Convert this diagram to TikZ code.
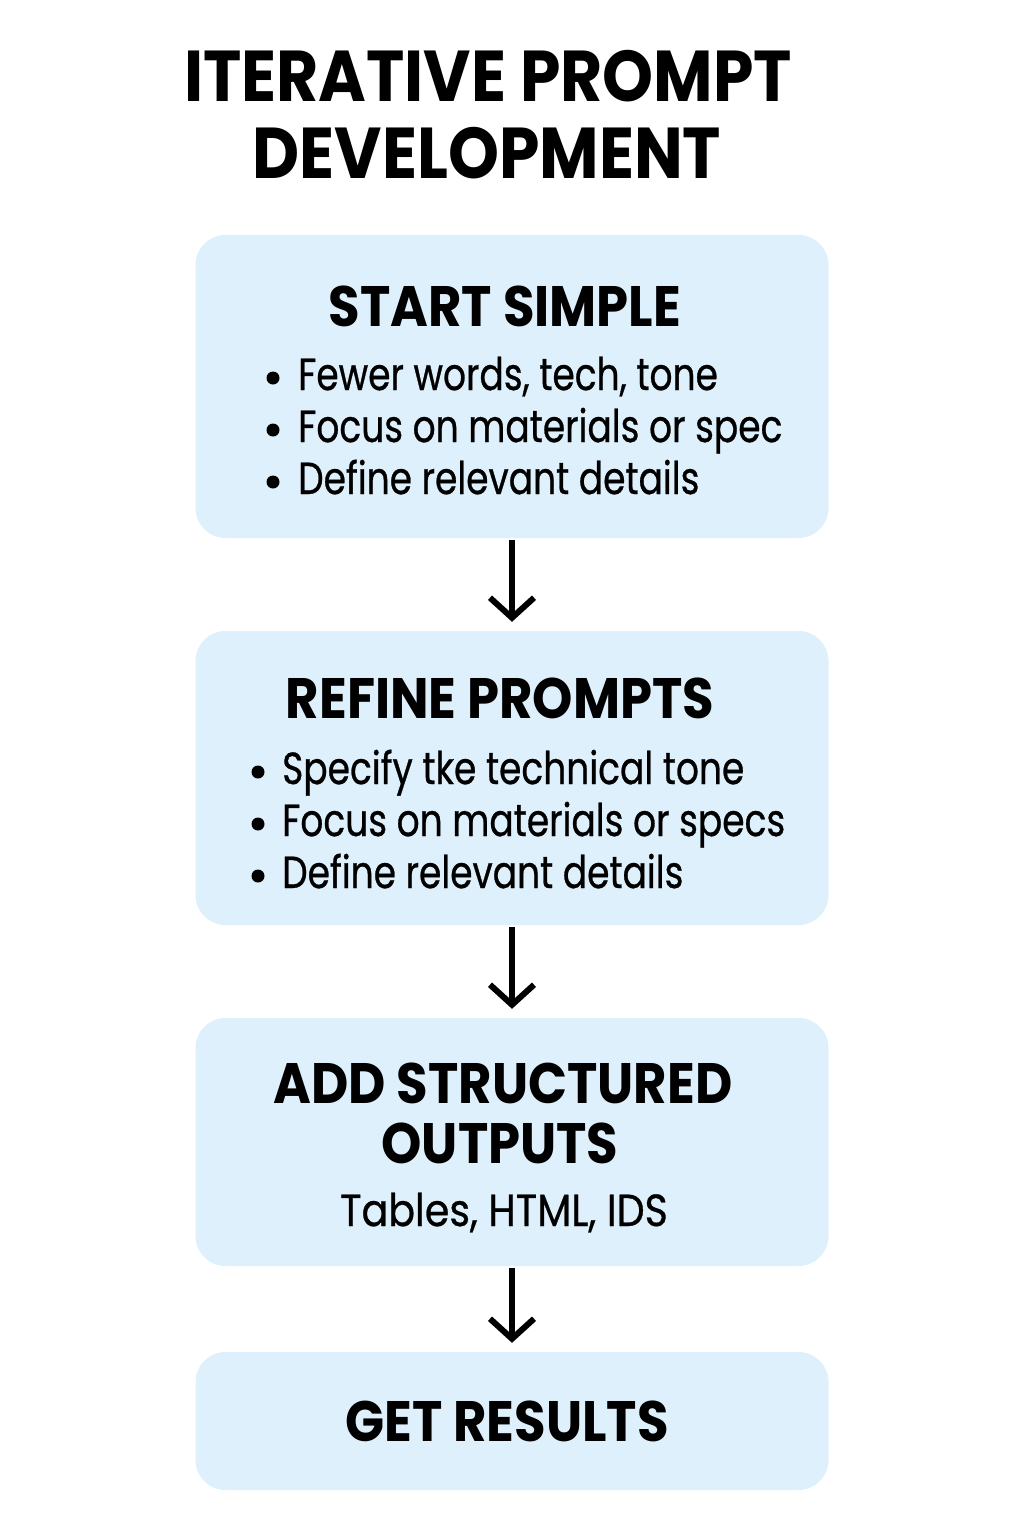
\documentclass[tikz,border=0pt]{standalone}
\usepackage{fontspec}
\setmainfont{Poppins}
\newfontfamily\headfont[FakeStretch=0.9]{Poppins}
\newfontfamily\bodyfont[FakeStretch=0.80,FakeBold=0.6]{Poppins}
\newfontfamily\plainfont[FakeStretch=0.88,FakeBold=0.6]{Poppins}
\usetikzlibrary{arrows.meta}
\definecolor{boxblue}{RGB}{222,240,252}
\tikzset{
  stepbox/.style={fill=boxblue, draw=none, rounded corners=30pt, minimum width=633pt, inner sep=0pt},
  titletext/.style={anchor=base, inner sep=0pt, font=\headfont\bfseries\fontsize{72}{80}\selectfont},
  headtext/.style={anchor=base, inner sep=0pt, font=\headfont\bfseries\fontsize{57}{64}\selectfont},
  bullettext/.style={anchor=base west, inner sep=0pt, font=\bodyfont\fontsize{45}{52}\selectfont},
  plaintext/.style={anchor=base, inner sep=0pt, font=\plainfont\fontsize{45}{52}\selectfont},
  dot/.style={fill=black},
  flowline/.style={draw=black, line width=6pt, -{Straight Barb[length=20pt,width=44pt,line width=6pt]}, shorten <=2pt, shorten >=9pt}
}
\begin{document}
\begin{tikzpicture}[x=1pt,y=-1pt]
\useasboundingbox[fill=white] (0,0) rectangle (1024,1536);
% title
\node[titletext] (t1) at (488,102) {ITERATIVE PROMPT};
\node[titletext] (t2) at (487,178) {DEVELOPMENT};
% boxes
\node[stepbox, minimum height=303pt] (b1) at (512,386.5) {};
\node[stepbox, minimum height=294pt] (b2) at (512,778) {};
\node[stepbox, minimum height=248pt] (b3) at (512,1142) {};
\node[stepbox, minimum height=138pt] (b4) at (512,1421) {};
% box 1
\node[headtext] (h1) at (505,326) {START SIMPLE};
\fill[dot] (273,378) circle (6.5);
\fill[dot] (273,430) circle (6.5);
\fill[dot] (273,482) circle (6.5);
\node[bullettext] (l11) at (298,390) {Fewer words, tech, tone};
\node[bullettext] (l12) at (298,442) {Focus on materials or spec};
\node[bullettext] (l13) at (298,494) {Define relevant details};
% box 2
\node[headtext] (h2) at (500,718) {REFINE PROMPTS};
\fill[dot] (258,772) circle (6.5);
\fill[dot] (258,824) circle (6.5);
\fill[dot] (258,876) circle (6.5);
\node[bullettext] (l21) at (282,784) {Specify tke technical tone};
\node[bullettext] (l22) at (282,836) {Focus on materials or specs};
\node[bullettext] (l23) at (282,888) {Define relevant details};
% box 3
\node[headtext] (h3a) at (503,1103) {ADD STRUCTURED};
\node[headtext] (h3b) at (500,1163) {OUTPUTS};
\node[plaintext] (l31) at (504,1226) {Tables, HTML, IDS};
% box 4
\node[headtext] (h4) at (507,1441) {GET RESULTS};
% arrows
\path[flowline] (b1.south) -- (b2.north);
\path[flowline] (b2.south) -- (b3.north);
\path[flowline] (b3.south) -- (b4.north);
\end{tikzpicture}
\end{document}
